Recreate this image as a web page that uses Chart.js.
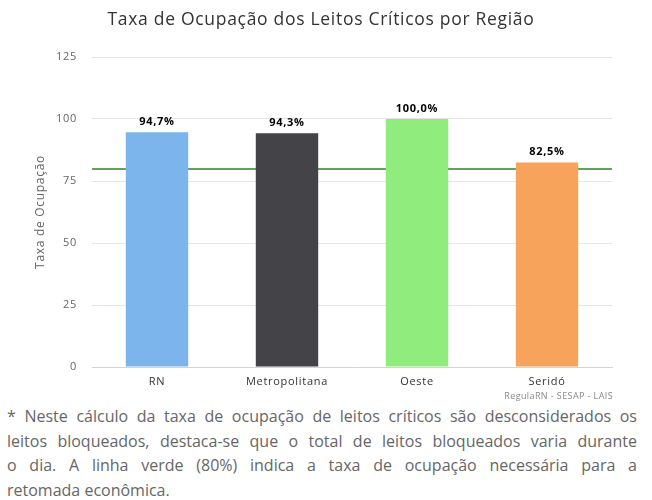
<!DOCTYPE html>
<html>
<head>
<meta charset="utf-8">
<script src="https://cdn.jsdelivr.net/npm/chart.js@4/dist/chart.umd.min.js"></script>
<style>
  body { margin: 0; background: #fff; width: 652px; overflow: hidden; }
  #wrap { position: relative; width: 652px; height: 400px; }
  #credito { position: absolute; right: 39px; top: 389px; font: 9px "Open Sans", sans-serif; letter-spacing: 0.4px; color: #888; }
  #nota { margin: 4px 15px 0 7px; font: 16px/24.5px "Open Sans", sans-serif; color: #666; }
  #nota span { display: block; text-align: justify; text-align-last: justify; }
  #nota span:last-child { text-align-last: left; }
</style>
</head>
<body>
<div id="wrap">
  <canvas id="chart-ocupacao" width="652" height="400"></canvas>
  <div id="credito">RegulaRN - SESAP - LAIS</div>
</div>
<div id="nota"><span>* Neste cálculo da taxa de ocupação de leitos críticos são desconsiderados os</span><span>leitos bloqueados, destaca-se que o total de leitos bloqueados varia durante</span><span>o dia. A linha verde (80%) indica a taxa de ocupação necessária para a</span><span>retomada econômica.</span></div>
<script>
// Dados
const regioes = ['RN', 'Metropolitana', 'Oeste', 'Seridó'];
const ocupacao = [94.7, 94.3, 100.0, 82.5];
const coresRegioes = ['#7cb5ec', '#434348', '#90ed7d', '#f7a35c'];
const ticksY = [0, 25, 50, 75, 100, 125];
const metaRetomada = 80;

// espaçamento entre letras, igual ao gráfico original
const espacamento = {
  id: 'espacamento',
  beforeDraw(chart) {
    chart.ctx.letterSpacing = '0.7px';
  }
};

// linha verde da meta (atrás das barras)
const linhaMeta = {
  id: 'linhaMeta',
  beforeDatasetsDraw(chart) {
    const { ctx, chartArea, scales } = chart;
    const y = Math.round(scales.y.getPixelForValue(metaRetomada));
    ctx.save();
    ctx.strokeStyle = '#2a852a';
    ctx.lineWidth = 1.5;
    ctx.beginPath();
    ctx.moveTo(chartArea.left, y);
    ctx.lineTo(chartArea.right, y);
    ctx.stroke();
    ctx.restore();
  }
};

// rótulos em cima das barras
const rotulos = {
  id: 'rotulos',
  afterDatasetsDraw(chart) {
    const { ctx } = chart;
    const meta = chart.getDatasetMeta(0);
    ctx.save();
    ctx.font = 'bold 11px "Open Sans", sans-serif';
    ctx.fillStyle = '#000';
    ctx.textAlign = 'center';
    ctx.textBaseline = 'bottom';
    meta.data.forEach((bar, i) => {
      const txt = ocupacao[i].toLocaleString('pt-BR', { minimumFractionDigits: 1, maximumFractionDigits: 1 }) + '%';
      ctx.fillText(txt, bar.x, bar.y - 5);
    });
    ctx.restore();
  }
};

const ctxOcupacao = document.getElementById('chart-ocupacao').getContext('2d');
new Chart(ctxOcupacao, {
  type: 'bar',
  data: {
    labels: regioes,
    datasets: [{
      label: 'Taxa de Ocupação',
      data: ocupacao,
      backgroundColor: coresRegioes,
      barPercentage: 0.96,
      categoryPercentage: 0.5
    }]
  },
  options: {
    responsive: false,
    animation: false,
    layout: { padding: { left: 30, right: 40, top: 0, bottom: 0 } },
    plugins: {
      legend: { display: false },
      tooltip: { enabled: false },
      title: {
        display: true,
        text: 'Taxa de Ocupação dos Leitos Críticos por Região',
        color: '#333',
        font: { family: 'Open Sans', size: 17.5, weight: 'normal' },
        padding: { top: 10, bottom: 26 }
      }
    },
    scales: {
      x: {
        grid: { display: false, drawTicks: false },
        border: { color: '#ccd6eb' },
        ticks: { color: '#333', font: { family: 'Open Sans', size: 11 }, padding: 8 },
        afterFit: s => { s.height = 33; }
      },
      y: {
        min: 0,
        max: 125,
        afterBuildTicks: s => { s.ticks = ticksY.map(v => ({ value: v })); },
        grid: { color: '#e6e6e6', drawTicks: false },
        border: { display: false },
        ticks: { color: '#666', font: { family: 'Open Sans', size: 11 }, padding: 15 },
        title: {
          display: true,
          text: 'Taxa de Ocupação',
          color: '#666',
          font: { family: 'Open Sans', size: 12 },
          padding: { top: 3, bottom: 0 }
        },
        afterFit: s => { s.width = 62; }
      }
    }
  },
  plugins: [espacamento, linhaMeta, rotulos]
});
</script>
</body>
</html>
